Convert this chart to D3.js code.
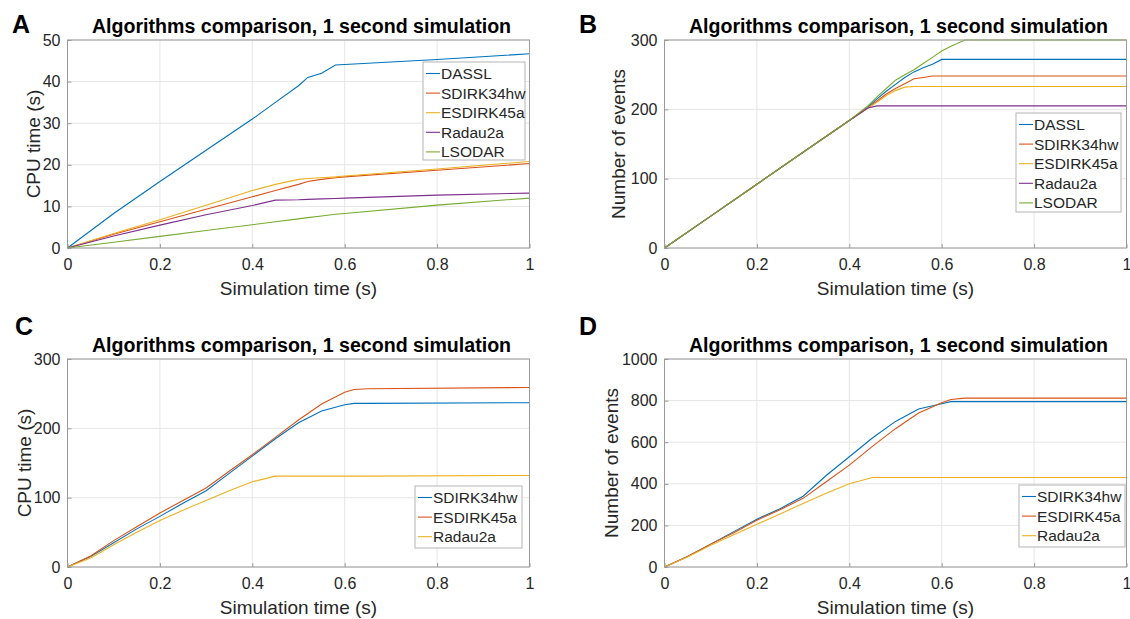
<!DOCTYPE html>
<html lang="en">
<head>
    <meta charset="UTF-8">
    <title>Algorithms comparison | D3</title>
    <style>
        body { margin: 0; background: #fff; }
        svg { font-family: "Liberation Sans", Arial, Helvetica, sans-serif; }
    </style>
</head>
<body>
    <div class="graph-container"></div>

    <script src="https://d3js.org/d3.v7.min.js"></script>
    <script>
        // ---- data ----
        var namesAB = ["DASSL", "SDIRK34hw", "ESDIRK45a", "Radau2a", "LSODAR"];
        var namesCD = ["SDIRK34hw", "ESDIRK45a", "Radau2a"];
        var xTicks = [0, 0.2, 0.4, 0.6, 0.8, 1];

        // A: CPU time (s), five solvers
        var timeA = [0, 0.1, 0.2, 0.3, 0.4, 0.45, 0.5, 0.52, 0.55, 0.58, 0.6, 0.8, 1];
        var cpuA_DASSL = [0, 8.3, 16, 23.5, 31, 35, 39, 41, 42, 44, 44.1, 45.3, 46.7];
        var cpuA_SDIRK = [0, 3.3, 6.3, 9.3, 12.3, 13.8, 15.3, 16, 16.5, 16.9, 17.1, 18.7, 20.3];
        var cpuA_ESDIRK = [0, 3.5, 6.8, 10.3, 13.8, 15.3, 16.5, 16.7, 16.9, 17.1, 17.3, 19, 20.8];
        var cpuA_Radau = [0, 2.9, 5.5, 8, 10.2, 11.5, 11.6, 11.7, 11.8, 11.9, 12, 12.7, 13.2];
        var cpuA_LSODAR = [0, 1.4, 2.8, 4.2, 5.6, 6.3, 7, 7.3, 7.7, 8.1, 8.3, 10.3, 12];
        var yTicksA = [0, 10, 20, 30, 40, 50];

        // B: number of events, five solvers
        var timeB = [0, 0.1, 0.2, 0.3, 0.4, 0.44, 0.46, 0.48, 0.5, 0.52, 0.54, 0.56, 0.58, 0.6, 0.62, 0.65, 1];
        var evB_DASSL = [0, 46, 92, 138, 184, 203, 215, 226, 236, 246, 254, 260, 265, 272, 272, 272, 272];
        var evB_SDIRK = [0, 46, 92, 138, 184, 202, 212, 222, 230, 237, 244, 246, 248, 248, 248, 248, 248];
        var evB_ESDIRK = [0, 46, 92, 138, 184, 202, 210, 220, 227, 232, 233, 233, 233, 233, 233, 233, 233];
        var evB_Radau = [0, 46, 92, 138, 184, 202, 205, 205, 205, 205, 205, 205, 205, 205, 205, 205, 205];
        var evB_LSODAR = [0, 46, 92, 138, 184, 205, 218, 230, 242, 250, 257, 266, 275, 284, 291, 300, 300];
        var yTicksB = [0, 100, 200, 300];

        // C: CPU time (s), three solvers
        var timeCD = [0, 0.05, 0.1, 0.15, 0.2, 0.25, 0.3, 0.35, 0.4, 0.45, 0.5, 0.55, 0.6, 0.62, 0.65, 1];
        var cpuC_SDIRK = [0, 15, 35, 55, 73, 92, 110, 135, 160, 185, 208, 225, 234, 236, 236, 237];
        var cpuC_ESDIRK = [0, 16, 38, 58, 78, 96, 114, 138, 162, 187, 212, 235, 252, 256, 257, 259];
        var cpuC_Radau = [0, 13, 32, 50, 67, 82, 96, 110, 123, 131, 131, 131, 131, 131, 131, 132];
        var yTicksC = [0, 100, 200, 300];

        // D: number of events, three solvers
        var evD_SDIRK = [0, 50, 110, 170, 230, 280, 340, 440, 530, 620, 700, 760, 785, 795, 795, 795];
        var evD_ESDIRK = [0, 50, 110, 165, 225, 275, 330, 410, 490, 580, 665, 740, 790, 805, 812, 812];
        var evD_Radau = [0, 48, 105, 155, 205, 255, 305, 355, 400, 430, 430, 430, 430, 430, 430, 430];
        var yTicksD = [0, 200, 400, 600, 800, 1000];

        var colors = ["#0072BD", "#D95319", "#EDB120", "#7E2F8E", "#77AC30"];
        var titleText = "Algorithms comparison, 1 second simulation";

        var svg = d3.select(".graph-container")
            .append("svg")
            .attr("width", 1130)
            .attr("height", 619);

        function drawPanel(p, idx) {
            var x = d3.scaleLinear().domain([0, 1]).range([0, p.w]);
            var y = d3.scaleLinear().domain([0, p.yMax]).range([p.h, 0]);

            var g = svg.append("g")
                .attr("transform", "translate(" + p.left + "," + p.top + ")");

            // grid
            g.append("g").selectAll("line").data(xTicks).enter().append("line")
                .attr("x1", function(d) { return x(d); }).attr("x2", function(d) { return x(d); })
                .attr("y1", 0).attr("y2", p.h)
                .attr("stroke", "#e6e6e6");
            g.append("g").selectAll("line").data(p.yTicks).enter().append("line")
                .attr("y1", function(d) { return y(d); }).attr("y2", function(d) { return y(d); })
                .attr("x1", 0).attr("x2", p.w)
                .attr("stroke", "#e6e6e6");

            // axes (ticks point inwards, MATLAB style)
            var xAxis = g.append("g")
                .attr("transform", "translate(0," + p.h + ")")
                .call(d3.axisBottom(x).tickValues(xTicks).tickFormat(d3.format("~g"))
                    .tickSize(-4).tickPadding(11));
            var yAxis = g.append("g")
                .call(d3.axisLeft(y).tickValues(p.yTicks).tickFormat(d3.format("d"))
                    .tickSize(-4).tickPadding(7));
            [xAxis, yAxis].forEach(function(a) {
                a.select(".domain").remove();
                a.selectAll(".tick line").attr("stroke", "#9a9a9a");
                a.selectAll("text").attr("fill", "#262626").style("font-size", "16px");
            });

            // lines
            var clipId = "clip" + idx;
            g.append("clipPath").attr("id", clipId)
                .append("rect").attr("x", 0).attr("y", -1).attr("width", p.w).attr("height", p.h + 2);
            var line = d3.line()
                .x(function(d) { return x(d[0]); })
                .y(function(d) { return y(d[1]); });
            var lines = g.append("g").attr("clip-path", "url(#" + clipId + ")");
            p.series.forEach(function(s, i) {
                var pts = p.time.map(function(t, k) { return [t, s[k]]; });
                lines.append("path")
                    .attr("d", line(pts))
                    .attr("fill", "none")
                    .attr("stroke", colors[i])
                    .attr("stroke-width", 1.1);
            });

            // box
            g.append("rect")
                .attr("width", p.w).attr("height", p.h)
                .attr("fill", "none").attr("stroke", "#9a9a9a");

            // title, labels
            g.append("text")
                .attr("x", p.w / 2 + 3).attr("y", -7)
                .attr("text-anchor", "middle")
                .style("font-size", "19.6px").style("font-weight", "bold")
                .text(titleText);
            g.append("text")
                .attr("x", p.w / 2).attr("y", p.h + 47)
                .attr("text-anchor", "middle")
                .attr("fill", "#262626")
                .style("font-size", "19px")
                .text("Simulation time (s)");
            g.append("text")
                .attr("transform", "translate(" + (p.yLabelX - p.left) + "," + (p.h / 2) + ") rotate(-90)")
                .attr("text-anchor", "middle")
                .attr("dy", "0.35em")
                .attr("fill", "#262626")
                .style("font-size", "19px")
                .text(p.yLabel);

            svg.append("text")
                .attr("x", p.letterX).attr("y", p.letterY)
                .style("font-size", "25px").style("font-weight", "bold")
                .text(p.letter);

            // legend
            var lg = svg.append("g").attr("transform", "translate(" + p.legend.x + "," + p.legend.y + ")");
            lg.append("rect")
                .attr("width", p.legend.w).attr("height", p.legend.h)
                .attr("fill", "#fff").attr("stroke", "#b4b4b4");
            p.names.forEach(function(n, i) {
                var cy = 11.5 + i * 19.6;
                lg.append("line")
                    .attr("x1", 3).attr("x2", 17).attr("y1", cy).attr("y2", cy)
                    .attr("stroke", colors[i]).attr("stroke-width", 1.1);
                lg.append("text")
                    .attr("x", 18).attr("y", cy).attr("dy", "0.36em")
                    .attr("fill", "#262626")
                    .style("font-size", "15.5px")
                    .text(n);
            });
        }

        var panels = [
            { left: 67.5, top: 40, w: 462, h: 208, yMax: 50, yTicks: yTicksA, yLabel: "CPU time (s)", yLabelX: 33,
              letter: "A", letterX: 12, letterY: 33, time: timeA, names: namesAB,
              series: [cpuA_DASSL, cpuA_SDIRK, cpuA_ESDIRK, cpuA_Radau, cpuA_LSODAR],
              legend: { x: 423, y: 62, w: 102, h: 98 } },
            { left: 664.5, top: 40, w: 462, h: 208, yMax: 300, yTicks: yTicksB, yLabel: "Number of events", yLabelX: 618,
              letter: "B", letterX: 579, letterY: 33, time: timeB, names: namesAB,
              series: [evB_DASSL, evB_SDIRK, evB_ESDIRK, evB_Radau, evB_LSODAR],
              legend: { x: 1016, y: 113, w: 105, h: 99 } },
            { left: 67.5, top: 359, w: 462, h: 208, yMax: 300, yTicks: yTicksC, yLabel: "CPU time (s)", yLabelX: 24,
              letter: "C", letterX: 15, letterY: 335, time: timeCD, names: namesCD,
              series: [cpuC_SDIRK, cpuC_ESDIRK, cpuC_Radau],
              legend: { x: 415, y: 486, w: 107, h: 62 } },
            { left: 664.5, top: 359, w: 462, h: 208, yMax: 1000, yTicks: yTicksD, yLabel: "Number of events", yLabelX: 611,
              letter: "D", letterX: 579, letterY: 335, time: timeCD, names: namesCD,
              series: [evD_SDIRK, evD_ESDIRK, evD_Radau],
              legend: { x: 1019, y: 485, w: 106, h: 62 } }
        ];

        panels.forEach(drawPanel);
    </script>
</body>
</html>
